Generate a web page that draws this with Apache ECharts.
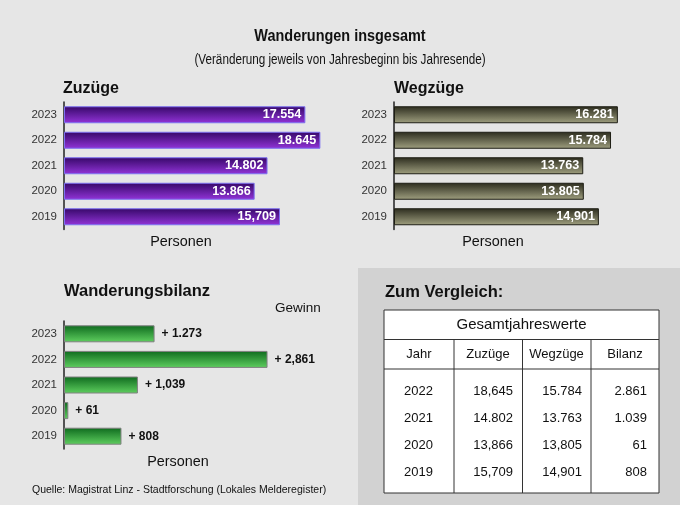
<!DOCTYPE html>
<html><head><meta charset="utf-8">
<script src="https://cdn.jsdelivr.net/npm/echarts@6/dist/echarts.min.js"></script>
<style>html,body{margin:0;padding:0;background:#e6e6e6;}#c{width:680px;height:505px;}</style>
</head><body><div id="c"></div>
<script>
var years = ['2023','2022','2021','2020','2019'];
var zuzuege = [17554, 18645, 14802, 13866, 15709];
var zuzuegeLabels = ['17.554','18.645','14.802','13.866','15,709'];
var wegzuege = [16281, 15784, 13763, 13805, 14901];
var wegzuegeLabels = ['16.281','15.784','13.763','13.805','14,901'];
var bilanz = [1273, 2861, 1039, 61, 808];
var bilanzLabels = ['+ 1.273','+ 2,861','+ 1,039','+ 61','+ 808'];
var tableHeader = ['Jahr','Zuzüge','Wegzüge','Bilanz'];
var tableYears = ['2022','2021','2020','2019'];
var tableZu = ['18,645','14.802','13,866','15,709'];
var tableWeg = ['15.784','13.763','13,805','14,901'];
var tableBil = ['2.861','1.039','61','808'];

var FF = '"Liberation Sans", Arial, sans-serif';
var chart = echarts.init(document.getElementById('c'));

function grad(top, bottom){
  return new echarts.graphic.LinearGradient(0,0,0,1,[{offset:0,color:top},{offset:1,color:bottom}]);
}
function yAx(gi){
  return {type:'category', gridIndex:gi, data:years, inverse:true,
    axisLine:{show:true, lineStyle:{color:'#222', width:1.5}}, axisTick:{show:false},
    axisLabel:{color:'#333', fontSize:11.5, fontFamily:FF, margin:7}};
}
function xAx(gi, max){
  return {type:'value', gridIndex:gi, min:0, max:max, axisLine:{show:false}, axisTick:{show:false},
    axisLabel:{show:false}, splitLine:{show:false}};
}

var graphics = [];
graphics.push({type:'rect', shape:{x:358,y:268,width:322,height:237}, style:{fill:'#d2d2d2'}, z:-10});
graphics.push({type:'rect', shape:{x:384,y:310,width:275,height:183}, style:{fill:'#fff', stroke:'#333', lineWidth:1}});
graphics.push({type:'line', shape:{x1:384,y1:339.5,x2:659,y2:339.5}, style:{stroke:'#333', lineWidth:1}});
graphics.push({type:'line', shape:{x1:384,y1:369,x2:659,y2:369}, style:{stroke:'#333', lineWidth:1}});
[454, 522.5, 591].forEach(function(x){
  graphics.push({type:'line', shape:{x1:x,y1:339.5,x2:x,y2:493}, style:{stroke:'#333', lineWidth:1}});
});
function txt(x,y,t,size,bold,align,sx){
  graphics.push({type:'text', x:x, y:y, scaleX:sx||1, style:{text:t, fontSize:size, fontWeight:bold?'bold':'normal', fontFamily:FF, fill:'#111', textAlign:align||'left', textVerticalAlign:'middle'}});
}
txt(521.5, 325, 'Gesamtjahreswerte', 15, false, 'center');
var hdrX = [419, 488, 556.5, 625];
tableHeader.forEach(function(h,i){ txt(hdrX[i], 354, h, 13, false, 'center'); });
var rowY = [391, 418, 445, 472];
tableYears.forEach(function(y,i){
  txt(418.5, rowY[i], y, 13, false, 'center');
  txt(513, rowY[i], tableZu[i], 13, false, 'right');
  txt(582, rowY[i], tableWeg[i], 13, false, 'right');
  txt(647, rowY[i], tableBil[i], 13, false, 'right');
});
txt(340, 36, 'Wanderungen insgesamt', 17, true, 'center', 0.85);
txt(340, 60, '(Veränderung jeweils von Jahresbeginn bis Jahresende)', 14, false, 'center', 0.835);
txt(63, 89, 'Zuzüge', 16, true);
txt(394, 89, 'Wegzüge', 16, true);
txt(64, 291, 'Wanderungsbilanz', 16.5, true);
txt(275, 308, 'Gewinn', 13.5, false);
txt(385, 292, 'Zum Vergleich:', 16.5, true);
txt(181, 242, 'Personen', 14.4, false, 'center');
txt(493, 242, 'Personen', 14.4, false, 'center');
txt(178, 462, 'Personen', 14.4, false, 'center');
txt(32, 490, 'Quelle: Magistrat Linz - Stadtforschung (Lokales Melderegister)', 10.5, false);

chart.setOption({
  backgroundColor:'#e6e6e6',
  animation:false,
  grid:[
    {left:64, top:102, width:275, height:127.5},
    {left:394, top:102, width:275, height:127.5},
    {left:64, top:321, width:249, height:128}
  ],
  xAxis:[xAx(0,20000), xAx(1,20000), xAx(2,3500)],
  yAxis:[yAx(0), yAx(1), yAx(2)],
  series:[
    {type:'bar', xAxisIndex:0, yAxisIndex:0, data:zuzuege, barWidth:17,
      itemStyle:{color:grad('#360868','#9234d8'), borderColor:'#7d70f0', borderWidth:1},
      label:{show:true, position:'insideRight', distance:4, color:'#fff', fontWeight:'bold', fontSize:12.6, fontFamily:FF,
        formatter:function(p){return zuzuegeLabels[p.dataIndex];}}},
    {type:'bar', xAxisIndex:1, yAxisIndex:1, data:wegzuege, barWidth:17,
      itemStyle:{color:grad('#2c2c1e','#a0a080'), borderColor:'#1e1e14', borderWidth:1},
      label:{show:true, position:'insideRight', distance:4, color:'#fff', fontWeight:'bold', fontSize:12.6, fontFamily:FF,
        formatter:function(p){return wegzuegeLabels[p.dataIndex];}}},
    {type:'bar', xAxisIndex:2, yAxisIndex:2, data:bilanz, barWidth:17,
      itemStyle:{color:grad('#0e6a1e','#5fcf5f'), borderColor:'#808080', borderWidth:1},
      label:{show:true, position:'right', distance:7, color:'#111', fontWeight:'bold', fontSize:12, fontFamily:FF,
        formatter:function(p){return bilanzLabels[p.dataIndex];}}}
  ],
  graphic:graphics
});
</script></body></html>
